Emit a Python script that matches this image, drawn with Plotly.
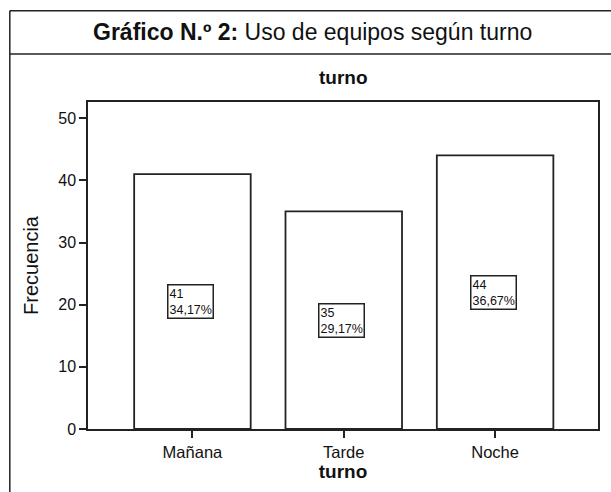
import plotly.graph_objects as go

categories = ["Mañana", "Tarde", "Noche"]
counts = [41, 35, 44]
percents = ["34,17%", "29,17%", "36,67%"]
y_ticks = [0, 10, 20, 30, 40, 50]

W, H = 611, 492
L, R, T, B = 88, 600, 102, 429.5  # plot area in px
def px_x(p): return (p - L) / (R - L)
def px_y(p): return (B - p) / (B - T)

LINE = "#222222"
FONT = "Liberation Sans, Arial, Helvetica, sans-serif"

fig = go.Figure()
fig.add_trace(go.Bar(
    x=categories, y=counts, width=0.77,
    marker=dict(color="white", line=dict(color=LINE, width=1.8)),
    hoverinfo="skip", showlegend=False,
))

for c, v, p in zip(categories, counts, percents):
    fig.add_annotation(
        x=c, y=v / 2, xref="x", yref="y",
        text=f"{v}<br>{p}", showarrow=False, align="left",
        font=dict(family=FONT, size=12.5, color="#111"),
        bordercolor=LINE, borderwidth=1.5, borderpad=1, bgcolor="white",
        xanchor="center", yanchor="middle", xshift=-2,
    )

# Outer frame lines
fig.add_shape(type="line", xref="paper", yref="paper",
              x0=px_x(9.5), x1=px_x(9.5), y0=px_y(10.5), y1=px_y(500),
              line=dict(color=LINE, width=1.5))
fig.add_shape(type="line", xref="paper", yref="paper",
              x0=px_x(9.5), x1=px_x(620), y0=px_y(10.5), y1=px_y(10.5),
              line=dict(color=LINE, width=1.5))
fig.add_shape(type="line", xref="paper", yref="paper",
              x0=px_x(9.5), x1=px_x(620), y0=px_y(54), y1=px_y(54),
              line=dict(color=LINE, width=1.5))

fig.add_annotation(
    x=px_x(313.5), y=px_y(32), xref="paper", yref="paper",
    text="<b>Gráfico N.º 2:</b> Uso de equipos según turno", showarrow=False,
    font=dict(family=FONT, size=23, color="#111"),
    xanchor="center", yanchor="middle",
)
fig.add_annotation(
    x=px_x(345), y=px_y(77), xref="paper", yref="paper",
    text="<b>turno</b>", showarrow=False,
    font=dict(family=FONT, size=19, color="#111"),
    xanchor="center", yanchor="middle",
)

fig.update_layout(
    width=W, height=H,
    margin=dict(l=L, r=W - R, t=T, b=H - B, pad=0),
    paper_bgcolor="white", plot_bgcolor="white",
    font=dict(family=FONT, color="#111"),
)
fig.update_xaxes(
    range=[-0.69, 2.68], showline=True, linecolor=LINE, linewidth=1.5, mirror=True,
    ticks="outside", ticklen=7, tickwidth=1.5, tickcolor=LINE,
    tickfont=dict(family=FONT, size=16.5, color="#111"), showgrid=False,
    title=dict(text="<b>turno</b>", font=dict(family=FONT, size=19, color="#111"), standoff=1),
    fixedrange=True,
)
fig.update_yaxes(
    range=[0, 52.6], tickvals=y_ticks, showline=True, linecolor=LINE, linewidth=1.5, mirror=True,
    ticks="outside", ticklen=7, tickwidth=1.5, tickcolor=LINE,
    tickfont=dict(family=FONT, size=16, color="#111"), showgrid=False, zeroline=False,
    title=dict(text="Frecuencia", font=dict(family=FONT, size=20, color="#111"), standoff=14),
    fixedrange=True,
)

fig.write_html("out.html", config={"displayModeBar": False},
               post_script="document.body.style.margin='0';document.body.style.padding='0';")
